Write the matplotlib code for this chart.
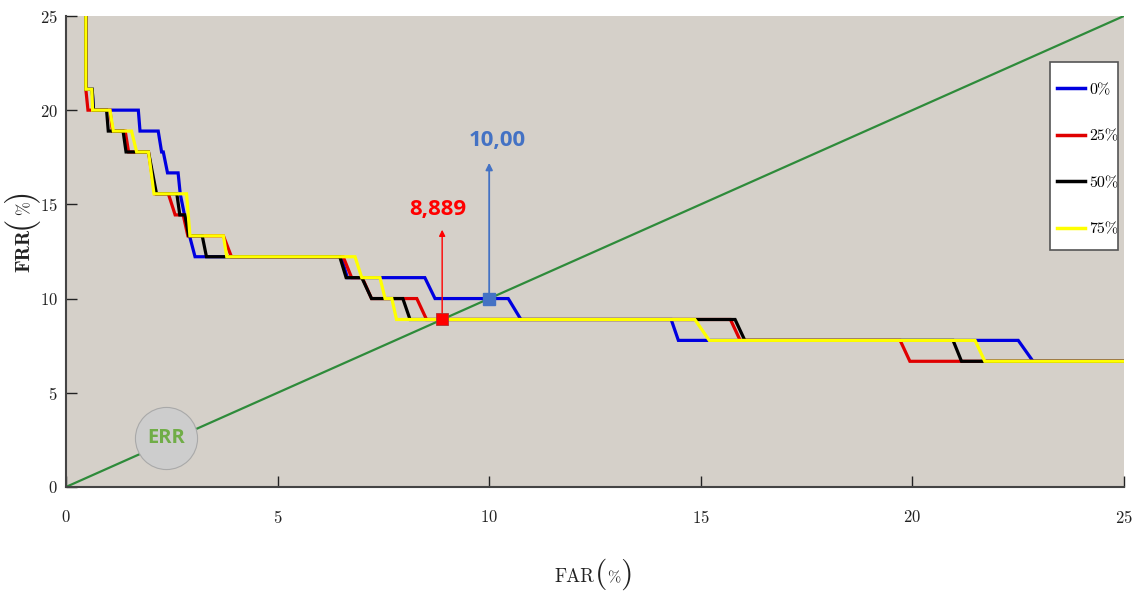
import numpy as np
import matplotlib
matplotlib.use("Agg")
import matplotlib.pyplot as plt
from matplotlib.lines import Line2D
from matplotlib.patches import Rectangle
from matplotlib.transforms import IdentityTransform

plt.rcParams['font.family'] = ['cmr10', 'DejaVu Serif']
plt.rcParams['mathtext.fontset'] = 'cm'
plt.rcParams['axes.formatter.use_mathtext'] = True

# FAR / FRR curves (%) for each share
blue_far = [0.47, 0.47, 0.62, 0.65, 1.71, 1.75, 2.18, 2.26, 2.30, 2.40, 2.65, 2.70, 2.80, 2.92, 3.05,
            6.50, 6.65, 8.48, 8.72, 10.45, 10.75, 14.30, 14.47, 22.50, 22.85, 25.0]
blue_frr = [60, 21.11, 21.11, 20.0, 20.0, 18.89, 18.89, 17.78, 17.78, 16.67, 16.67, 15.56, 14.44, 13.33, 12.22,
            12.22, 11.11, 11.11, 10.0, 10.0, 8.889, 8.889, 7.78, 7.78, 6.67, 6.67]

red_far = [0.47, 0.47, 0.52, 1.04, 1.10, 1.40, 1.48, 1.95, 2.10, 2.42, 2.58, 2.77, 2.88, 3.72, 3.91,
           6.55, 6.75, 7.00, 7.22, 8.29, 8.52, 15.70, 15.93, 19.71, 19.94, 25.0]
red_frr = [60, 21.11, 20.0, 20.0, 18.89, 18.89, 17.78, 17.78, 15.56, 15.56, 14.44, 14.44, 13.33, 13.33, 12.22,
           12.22, 11.11, 11.11, 10.0, 10.0, 8.889, 8.889, 7.78, 7.78, 6.67, 6.67]

black_far = [0.47, 0.47, 0.62, 0.65, 0.96, 1.00, 1.35, 1.42, 1.95, 2.14, 2.62, 2.69, 2.81, 2.90, 3.22, 3.32,
             6.47, 6.62, 6.99, 7.22, 7.96, 8.13, 15.81, 16.04, 20.96, 21.16, 25.0]
black_frr = [60, 21.11, 21.11, 20.0, 20.0, 18.89, 18.89, 17.78, 17.78, 15.56, 15.56, 14.44, 14.44, 13.33, 13.33, 12.22,
             12.22, 11.11, 11.11, 10.0, 10.0, 8.889, 8.889, 7.78, 7.78, 6.67, 6.67]

yellow_far = [0.47, 0.47, 0.61, 0.63, 1.04, 1.12, 1.55, 1.67, 1.95, 2.08, 2.85, 2.93, 3.72, 3.80,
              6.83, 6.99, 7.42, 7.54, 7.70, 7.81, 14.86, 15.20, 21.48, 21.71, 25.0]
yellow_frr = [60, 21.11, 21.11, 20.0, 20.0, 18.89, 18.89, 17.78, 17.78, 15.56, 15.56, 13.33, 13.33, 12.22,
              12.22, 11.11, 11.11, 10.0, 10.0, 8.889, 8.889, 7.78, 7.78, 6.67, 6.67]

labels = ['0%', '25%', '50%', '75%']
colors = ['#0000e0', '#e00000', '#000000', '#ffff00']

err_line = [0, 25]
eer_red = 8.889
eer_blue = 10.0
err_pos = (2.36, 2.61)

fig = plt.figure(figsize=(11.37, 5.97), dpi=100)
ax = fig.add_axes([0.058, 0.1843, 0.9306, 0.789])
ax.set_facecolor('#d5d0c9')

ax.plot(err_line, err_line, color='#2e8b3a', lw=1.6, zorder=2)

curves = [(blue_far, blue_frr), (red_far, red_frr), (black_far, black_frr), (yellow_far, yellow_frr)]
for (fx, fy), c in zip(curves, colors):
    ax.plot(fx, fy, color=c, lw=2.3, solid_joinstyle='miter', zorder=3)

# EER markers and arrows
ax.annotate('', xy=(eer_red, 13.8), xytext=(eer_red, eer_red),
            arrowprops=dict(arrowstyle='-|>', color='#ff0000', lw=1, mutation_scale=9), zorder=5)
ax.annotate('', xy=(eer_blue, 17.35), xytext=(eer_blue, eer_blue),
            arrowprops=dict(arrowstyle='-|>', color='#4472c4', lw=1.3, mutation_scale=10), zorder=5)
ax.plot([eer_red], [eer_red], 's', ms=8, color='#ff0000', mec='#b03030', mew=0.6, zorder=6)
ax.plot([eer_blue], [eer_blue], 's', ms=9, color='#4472c4', mec='#4472c4', zorder=6)
ax.text(eer_red - 0.1, 14.75, '8,889', color='#ff0000', fontsize=16, fontweight='bold',
        family='Open Sans', ha='center', va='center', zorder=6)
ax.text(eer_blue + 0.18, 18.4, '10,00', color='#4472c4', fontsize=16, fontweight='bold',
        family='Open Sans', ha='center', va='center', zorder=6)

# ERR bubble
ax.scatter([err_pos[0]], [err_pos[1]], s=2000, color='#cdcdcd', edgecolor='#a9a9a9', lw=0.8, zorder=4)
ax.text(err_pos[0], err_pos[1], 'ERR', color='#70ad47', fontsize=14.5, fontweight='bold',
        family='Open Sans', ha='center', va='center', zorder=5)

ax.set_xlim(0, 25)
ax.set_ylim(0, 25)
ax.set_xticks(range(0, 26, 5))
ax.set_yticks(range(0, 26, 5))
ax.tick_params(direction='in', length=8, width=1, labelsize=12, colors='#222222')
ax.tick_params(axis='x', pad=16)
ax.tick_params(axis='y', pad=6)
for s in ['top', 'right']:
    ax.spines[s].set_visible(False)
for s in ['left', 'bottom']:
    ax.spines[s].set_color('#444444')
    ax.spines[s].set_linewidth(1.5)

# legend: entries without frame, box drawn separately
handles = [Line2D([], [], color=c, lw=2.5) for c in colors]
leg = ax.legend(handles, labels, loc='upper left', bbox_to_anchor=(0.9367, 0.858),
                fontsize=11.5, labelspacing=2.02, handlelength=1.75, handletextpad=0.25,
                borderpad=0, borderaxespad=0, frameon=False)
leg.set_zorder(8)
ax.add_patch(Rectangle((0.930, 0.503), 0.0643, 0.399, transform=ax.transAxes,
                       facecolor='white', edgecolor='#555555', lw=1.2, zorder=7, clip_on=False))

# axis labels with tall parentheses
renderer = fig.canvas.get_renderer()


def piece_label(parts, cx, cy, vertical):
    texts = []
    widths = []
    for s, size, fam in parts:
        t = fig.text(0, 0, s, fontsize=size, family=fam, color='#222222',
                     transform=IdentityTransform())
        widths.append(t.get_window_extent(renderer).width)
        texts.append(t)
    total = sum(widths)
    pos = -total / 2
    for t, w in zip(texts, widths):
        if vertical:
            t.set_position((cx, cy + pos))
            t.set_rotation(90)
            t.set_rotation_mode('anchor')
        else:
            t.set_position((cx + pos, cy))
        t.set_ha('left')
        t.set_va('baseline')
        pos += w


piece_label([('FAR', 13.5, 'cmr10'), ('(', 23, 'cmr10'), ('%', 11.5, 'cmr10'), (')', 23, 'cmr10')],
            594, 597 - 582, False)
piece_label([('FRR', 14.5, 'cmb10'), ('(', 25, 'cmr10'), ('%', 12, 'cmr10'), (')', 25, 'cmr10')],
            29, 597 - 230, True)

fig.savefig('out.png', dpi=100)
